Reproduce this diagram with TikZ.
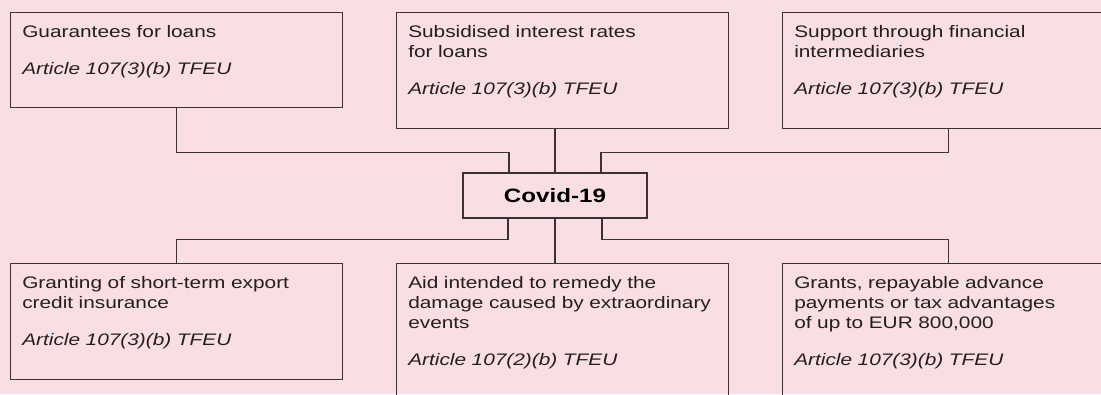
\documentclass[tikz,border=0pt]{standalone}
\usepackage{fontspec}
\setmainfont[FakeStretch=1.25]{Liberation Sans}
\usetikzlibrary{calc}
\definecolor{pinkbg}{RGB}{249,223,228}
\definecolor{linegray}{RGB}{58,50,54}
\definecolor{inkgray}{RGB}{35,31,32}

\begin{document}
\begin{tikzpicture}[x=0.75pt,y=-0.75pt,
	panel/.style={draw=linegray,line width=1.1pt,anchor=north west,inner sep=0pt,minimum width=249pt},
	blurb/.style={anchor=north west,inner sep=0pt,text width=236pt,align=left,text=inkgray,font=\fontsize{12.5}{15}\selectfont},
	link/.style={draw=linegray,line width=1.1pt}]
		\useasboundingbox (0,0) rectangle (1101,394);
		\clip (0,0) rectangle (1101,394);
		\fill [pinkbg] (0,0) rectangle (1101,394);
		
		% upper row
		\node [panel,minimum height=71.25pt] (guar) at (10,12) {};
		\node [panel,minimum height=87pt] (subs) at (396,12) {};
		\node [panel,minimum height=87pt] (supp) at (782,12) {};
		
		% lower row
		\node [panel,minimum height=87pt] (export) at (10,263) {};
		\node [panel,minimum height=115pt] (remedy) at (396,263) {};
		\node [panel,minimum height=115pt] (grants) at (782,263) {};
		
		\node [blurb] (guar-t) at ([shift={(9pt,-9.5pt)}]guar.north west) {Guarantees for loans\\[12.75pt]\textit{Article 107(3)(b) TFEU}};
		\node [blurb] (subs-t) at ([shift={(9pt,-9.5pt)}]subs.north west) {Subsidised interest rates\\for loans\\[12.75pt]\textit{Article 107(3)(b) TFEU}};
		\node [blurb] (supp-t) at ([shift={(9pt,-9.5pt)}]supp.north west) {Support through financial\\intermediaries\\[12.75pt]\textit{Article 107(3)(b) TFEU}};
		\node [blurb] (export-t) at ([shift={(9pt,-9.5pt)}]export.north west) {Granting of short-term export\\credit insurance\\[12.75pt]\textit{Article 107(3)(b) TFEU}};
		\node [blurb] (remedy-t) at ([shift={(9pt,-9.5pt)}]remedy.north west) {Aid intended to remedy the\\damage caused by extraordinary\\events\\[12.75pt]\textit{Article 107(2)(b) TFEU}};
		\node [blurb] (grants-t) at ([shift={(9pt,-9.5pt)}]grants.north west) {Grants, repayable advance\\payments or tax advantages\\of up to EUR 800,000\\[12.75pt]\textit{Article 107(3)(b) TFEU}};
		
		\node [draw=linegray,line width=1.1pt,fill=pinkbg,minimum width=138pt,minimum height=33.75pt,inner sep=0pt,text=black,font=\fontsize{14.5}{17}\selectfont\bfseries] (covid) at (555,195.5) {Covid-19};
		
		\draw [link] (guar.south) -- ++(0,44) -| ($(covid.north)+(-46,0)$);
		\draw [link] (covid.north) -- (covid.north |- subs.south);
		\draw [link] (supp.south) -- ++(0,23) -| ($(covid.north)+(46,0)$);
		\draw [link] ($(covid.south)+(-47,0)$) -- ++(0,21) -| (export.north);
		\draw [link] (covid.south) -- (covid.south |- remedy.north);
		\draw [link] ($(covid.south)+(47,0)$) -- ++(0,21) -| (grants.north);
\end{tikzpicture}
\end{document}
